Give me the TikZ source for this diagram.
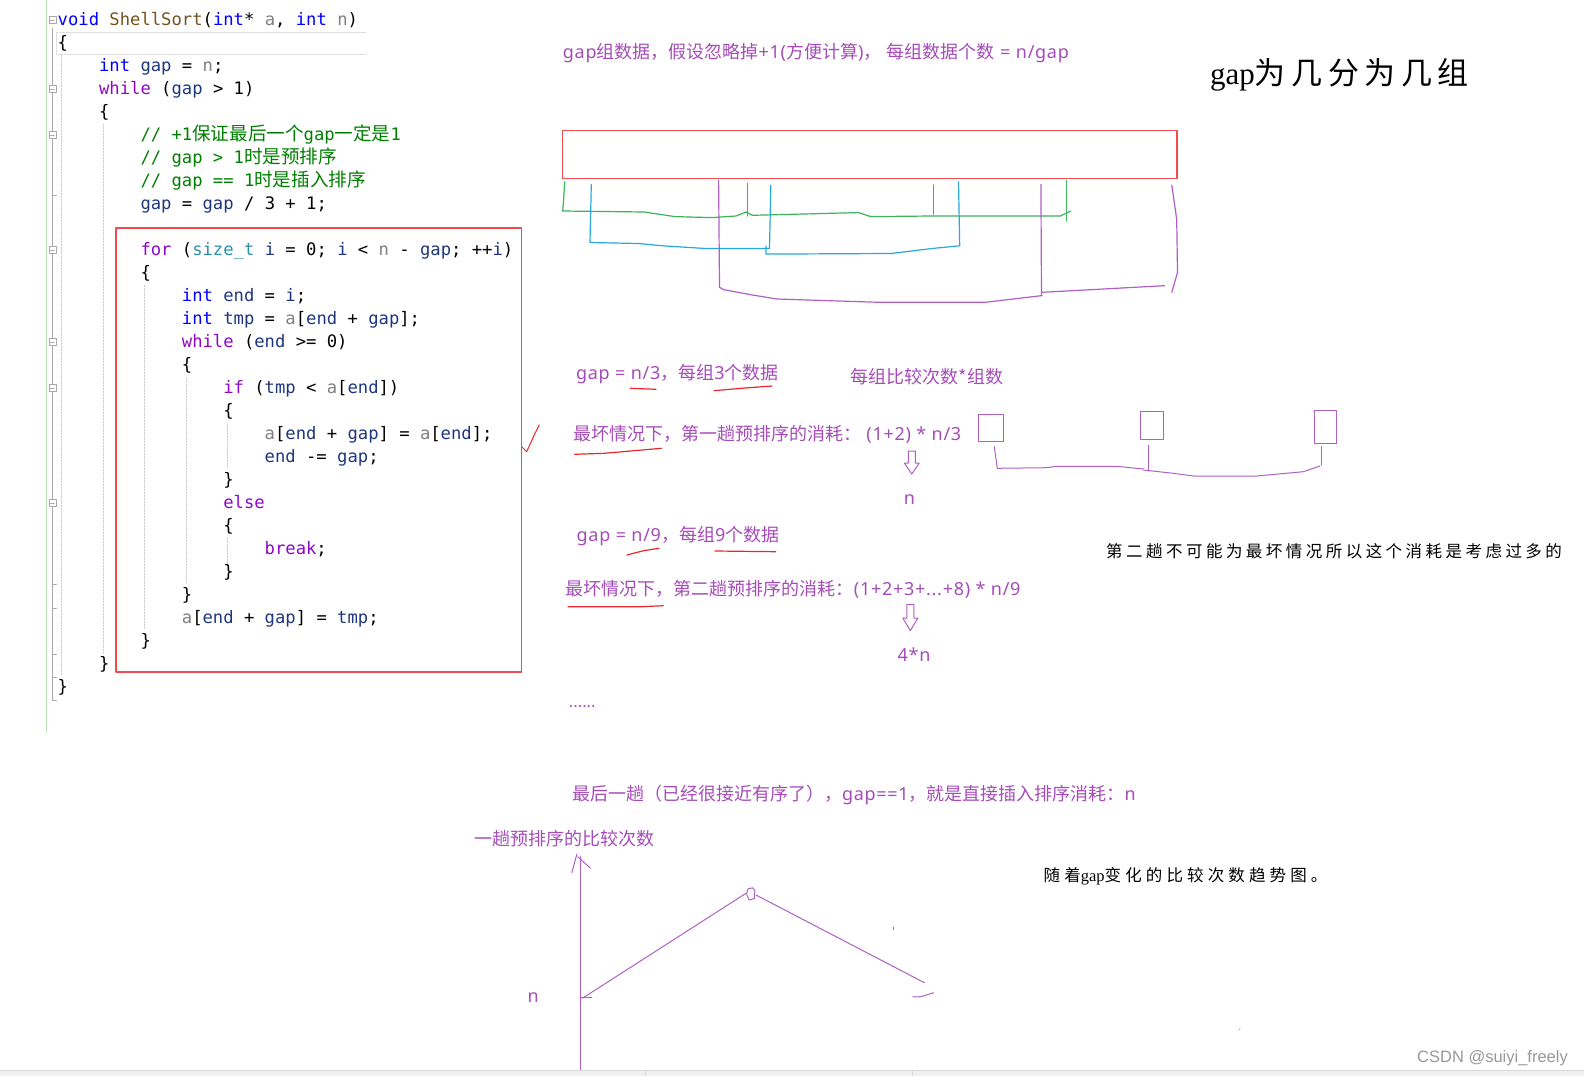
\documentclass[tikz,border=0pt]{standalone}
\usepackage{fontspec}
\setmainfont{Liberation Sans}
\newfontfamily\codemono{DejaVu Sans Mono}
\newfontfamily\cjk{Noto Sans CJK SC}
\newfontfamily\latf{Noto Sans}[LetterSpace=4]
\newfontfamily\cjkcode{Noto Sans CJK SC}[Scale=1.08]
\newfontfamily\cjkT{Noto Sans CJK SC}[LetterSpace=18]
\newfontfamily\cjkS{Noto Sans CJK SC}[LetterSpace=25]
\newfontfamily\cjkSS{Noto Sans CJK SC}[LetterSpace=21]
\newfontfamily\serifL{Liberation Serif}
\definecolor{ckw}{RGB}{0,0,255}
\definecolor{cct}{RGB}{143,8,196}
\definecolor{cvr}{RGB}{31,55,127}
\definecolor{cpr}{RGB}{128,128,128}
\definecolor{cfn}{RGB}{116,83,31}
\definecolor{cty}{RGB}{43,145,175}
\definecolor{ccm}{RGB}{0,128,0}
\definecolor{annot}{HTML}{A64CB8}
\definecolor{inkp}{HTML}{B060C4}
\definecolor{inkg}{HTML}{3DB35A}
\definecolor{inkb}{HTML}{2AA6E0}
\definecolor{inkr}{HTML}{E8282E}
\definecolor{boxred}{HTML}{EE4C50}
\definecolor{gutgreen}{HTML}{B8E6B8}
\definecolor{foldgray}{HTML}{A8A8A8}
\definecolor{guide}{HTML}{C8C8C8}
\newcommand\cKw[1]{\textcolor{ckw}{#1}}
\newcommand\cCt[1]{\textcolor{cct}{#1}}
\newcommand\cVr[1]{\textcolor{cvr}{#1}}
\newcommand\cPr[1]{\textcolor{cpr}{#1}}
\newcommand\cFn[1]{\textcolor{cfn}{#1}}
\newcommand\cTy[1]{\textcolor{cty}{#1}}
\newcommand\cCm[1]{\textcolor{ccm}{#1}}
\newcommand\la[1]{{\latf #1}}
\newcommand\cl[4]{\node[code] (#1) at ({57.5+41.4*#2},{25.5+23*#3}) {#4};}
\tikzset{
  code/.style={anchor=base west, inner sep=0pt, font=\codemono\fontsize{17.2}{20}\selectfont},
  ann/.style={anchor=base west, inner sep=0pt, text=annot, font=\cjk\fontsize{18}{22}\selectfont},
  annc/.style={ann, anchor=base},
  ink/.style={line width=1.2pt},
  pink/.style={ink, draw=inkp},
  gink/.style={ink, draw=inkg},
  bink/.style={ink, draw=inkb},
  rink/.style={ink, draw=inkr},
  hollow/.style={draw=inkp, line width=1pt},
  blacknote/.style={anchor=base west, inner sep=0pt, text=black},
}
\begin{document}
\begin{tikzpicture}[x=1pt,y=-1pt,line cap=round,line join=round]
\fill[white] (0,0) rectangle (1584,1076);
\useasboundingbox (0,0) rectangle (1584,1076);

% ---------- code editor gutter ----------
\draw[gutgreen, line width=1.2pt] (46.3,0) -- (46.3,732);
\draw[foldgray, line width=0.8pt] (52.4,28) -- (52.4,700);
\foreach \ty in {195,584,608,654,677,700} \draw[foldgray, line width=0.8pt] (52.4,\ty) -- (56.5,\ty);
\foreach \li in {0,3,5,10,14,16,21} {
  \filldraw[draw=foldgray, fill=white, line width=0.6pt] ({49},{25.5+23*\li-9}) rectangle ({55.8},{25.5+23*\li-2.2});
  \draw[foldgray, line width=0.6pt] ({50.5},{25.5+23*\li-5.6}) -- ({54.3},{25.5+23*\li-5.6});
}
% current-line highlight
\draw[gray!25, line width=0.8pt] (366,32.8) -- (56.5,32.8) -- (56.5,54) -- (366,54);
% indent guides
\tikzset{ig/.style={guide, dash pattern=on 1.5pt off 1.5pt, line width=0.7pt}}
\draw[ig] (61.8,55) -- (61.8,676);
\draw[ig] (103.2,124) -- (103.2,654);
\draw[ig] (144.6,285) -- (144.6,629);
\draw[ig] (186,378) -- (186,583);
\draw[ig] (227.4,424) -- (227.4,468);
\draw[ig] (227.4,538) -- (227.4,566);

% ---------- code ----------
\cl{l0}{0}{0}{\cKw{void} \cFn{ShellSort}(\cKw{int}* \cPr{a}, \cKw{int} \cPr{n})}
\cl{l1}{0}{1}{\{}
\cl{l2}{1}{2}{\cKw{int} \cVr{gap} = \cPr{n};}
\cl{l3}{1}{3}{\cCt{while} (\cVr{gap} > 1)}
\cl{l4}{1}{4}{\{}
\cl{l5}{2}{5}{\cCm{// +1{\cjkcode 保证最后一个}gap{\cjkcode 一定是}1}}
\cl{l6}{2}{6}{\cCm{// gap > 1{\cjkcode 时是预排序}}}
\cl{l7}{2}{7}{\cCm{// gap == 1{\cjkcode 时是插入排序}}}
\cl{l8}{2}{8}{\cVr{gap} = \cVr{gap} / 3 + 1;}
\cl{l10}{2}{10}{\cCt{for} (\cTy{size\_t} \cVr{i} = 0; \cVr{i} < \cPr{n} - \cVr{gap}; ++\cVr{i})}
\cl{l11}{2}{11}{\{}
\cl{l12}{3}{12}{\cKw{int} \cVr{end} = \cVr{i};}
\cl{l13}{3}{13}{\cKw{int} \cVr{tmp} = \cPr{a}[\cVr{end} + \cVr{gap}];}
\cl{l14}{3}{14}{\cCt{while} (\cVr{end} >= 0)}
\cl{l15}{3}{15}{\{}
\cl{l16}{4}{16}{\cCt{if} (\cVr{tmp} < \cPr{a}[\cVr{end}])}
\cl{l17}{4}{17}{\{}
\cl{l18}{5}{18}{\cPr{a}[\cVr{end} + \cVr{gap}] = \cPr{a}[\cVr{end}];}
\cl{l19}{5}{19}{\cVr{end} -= \cVr{gap};}
\cl{l20}{4}{20}{\}}
\cl{l21}{4}{21}{\cCt{else}}
\cl{l22}{4}{22}{\{}
\cl{l23}{5}{23}{\cCt{break};}
\cl{l24}{4}{24}{\}}
\cl{l25}{3}{25}{\}}
\cl{l26}{3}{26}{\cPr{a}[\cVr{end} + \cVr{gap}] = \cVr{tmp};}
\cl{l27}{2}{27}{\}}
\cl{l28}{1}{28}{\}}
\cl{l29}{0}{29}{\}}

% red box around the for loop + check mark
\draw[boxred, line width=1.3pt] (116,228) rectangle (521.7,672);
\draw[rink, line width=1pt] (521.7,446.7) -- (526.7,451.7) -- (535,433.3) -- (539.3,425);

% ---------- top annotation ----------
\node[ann] (a1) at (562.7,58.5) {\la{gap}组数据，假设忽略掉\la{+1(}方便计算\la{)}，\la{\ }每组数据个数\la{\ = n/gap}};
\node[blacknote, font=\fontsize{31}{36}\selectfont] (title) at (1210,84.5) {{\serifL gap}{\cjkT 为几分为几组}};

% array box
\draw[boxred, line width=1.3pt] (562.7,130.3) rectangle (1177,178.8);
% green groups
\draw[gink] (564.7,181.8) -- (563.5,201) -- (562.7,211) -- (644.3,212) -- (674.9,216.6) -- (711.6,217.6) -- (736,216) -- (746.3,212) -- (752.4,215.3) -- (858.5,212.6) -- (870.7,216.6) -- (932,216) -- (1060.5,216) -- (1070.7,211);
\draw[gink] (747.1,183.4) -- (747.1,216);
\draw[gink] (933.2,185) -- (933.2,214.3);
\draw[gink] (1066.6,180.4) -- (1066.6,221);
% blue groups
\draw[bink] (591.3,184.4) -- (590,242.5) -- (638.2,243.5) -- (662.7,245.8) -- (705.5,248.5) -- (769.5,248.5);
\draw[bink] (770.8,185.1) -- (769.5,248.5);
\draw[bink] (766,246) -- (766,254.1) -- (891.1,253.5) -- (932,248.5) -- (959.7,245.8) -- (958.5,181.8);
% purple groups
\draw[pink] (718.6,180.4) -- (719.5,287.3) -- (723.9,289.7) -- (752.4,295) -- (776.9,299) -- (878.9,302.3) -- (985,302.3) -- (1042.1,295.6);
\draw[pink] (1040.9,184.4) -- (1041.5,295.6);
\draw[pink] (1042.1,292.3) -- (1164.5,285.7);
\draw[pink] (1171.8,185.1) -- (1176.7,219.3) -- (1177.5,272.4) -- (1171.8,292.3);

% ---------- middle annotations ----------
\node[ann] (a2) at (575.8,379) {\la{gap = n/3}，每组\la{3}个数据};
\node[ann] (a3) at (850.6,383) {每组比较次数*组数};
\node[ann] (a4) at (572.8,440) {最坏情况下，第一趟预排序的消耗：\la{\ (1+2) * n/3}};
\node[annc] (a5) at (909.5,504.5) {\la{n}};
\node[ann] (a6) at (576.5,541) {\la{gap = n/9}，每组\la{9}个数据};
\node[ann] (a7) at (565.7,595.3) {最坏情况下，第二趟预排序的消耗：\la{(1+2+3+...+8) * n/9}};
\node[annc] (a8) at (914,661) {\la{4*n}};
\node[ann, font=\cjk\fontsize{16}{20}\selectfont] (a9) at (568.7,707) {......};

% red underlines
\draw[rink] (630.4,388.3) -- (656,389.3);
\draw[rink] (714,390.7) -- (745,388) -- (772,386);
\draw[rink] (574.6,454.3) -- (604.3,453.3) -- (661.4,448.3);
\draw[rink] (626.8,555) -- (643.6,550.7) -- (658.9,548.3);
\draw[rink] (715,551) -- (775.7,551.7);
\draw[rink] (567.9,606.7) -- (641.8,606.7) -- (663.2,605.7);

% hollow arrows
\draw[hollow] (908.3,451) -- (915.3,451) -- (915.3,463) -- (919.3,463) -- (911.8,474) -- (904.3,463) -- (908.3,463) -- cycle;
\draw[hollow] (906.8,604.3) -- (913.8,604.3) -- (913.8,618) -- (917.8,618) -- (910.3,630.7) -- (902.8,618) -- (906.8,618) -- cycle;

% three group squares
\draw[pink, line width=1pt] (978.3,414.3) rectangle (1003.3,441.7);
\draw[pink, line width=1pt] (1140,411) rectangle (1163.3,439.3);
\draw[pink, line width=1pt] (1314,410.7) rectangle (1336.7,443.3);
\draw[pink, line width=1pt] (994.3,446.7) -- (997.3,468.3) -- (1046.7,467.7) -- (1056.7,466.3) -- (1116.7,466.3) -- (1143.3,469);
\draw[pink, line width=1pt] (1148.3,445) -- (1148.3,471);
\draw[pink, line width=1pt] (1143.3,470) -- (1173.3,473.3) -- (1193.3,476) -- (1256.7,476) -- (1303.3,471.7) -- (1320,466);
\draw[pink, line width=1pt] (1321.7,446.7) -- (1321.7,465);

\node[blacknote, font=\cjkSS\fontsize{16.5}{20}\selectfont] (b2) at (1106,557) {第二趟不可能为最坏情况所以这个消耗是考虑过多的};

% ---------- bottom ----------
\node[ann] (a10) at (571.8,800) {最后一趟（已经很接近有序了），\la{gap==1}，就是直接插入排序消耗：\la{n}};
\node[ann] (a11) at (474.6,845.5) {一趟预排序的比较次数};
\node[annc] (a12) at (533.3,1002.5) {\la{n}};
\node[blacknote, font=\fontsize{16.5}{20}\selectfont] (b3) at (1043.5,881.3) {{\cjkS 随着}{\serifL gap}{\cjkS 变化的比较次数趋势图。}};

% graph
\draw[pink, line width=1pt] (580,856.7) -- (580,1071);
\draw[pink, line width=1pt] (571.8,872.7) -- (576.8,854.3);
\draw[pink, line width=1pt] (577.7,856.7) -- (590.6,868.3);
\draw[pink, line width=1pt] (580,997.7) -- (591.5,997.7);
\draw[pink, line width=1pt] (582.3,998.3) -- (746,893.3);
\draw[pink, line width=1pt] (746.5,894) -- (748,889) -- (752.5,887.8) -- (754.8,890.5) -- (754.5,898.5) -- (749,900) -- (747,895);
\draw[pink, line width=1pt] (756,895) -- (924.4,982.7);
\draw[pink, line width=1pt] (912.9,996.7) .. controls (920,998) and (926,995) .. (933.6,992.7);
\draw[pink, line width=0.8pt] (893.6,927) -- (893.6,929.5);
\draw[pink, line width=0.6pt] (1239,1029.5) -- (1240.2,1028.6);

% watermark and bottom strip
\node[anchor=base west, inner sep=0pt, text=black!40, font=\fontsize{16.5}{20}\selectfont] (wm) at (1417,1062.7) {CSDN @suiyi\_freely};
\fill[black!6] (0,1070) rectangle (1584,1076);
\draw[black!15, line width=0.8pt] (0,1070) -- (1584,1070);
\draw[black!15, line width=0.6pt] (645.2,1070) -- (645.2,1076);
\draw[black!15, line width=0.6pt] (912,1070) -- (912,1076);
\end{tikzpicture}
\end{document}
